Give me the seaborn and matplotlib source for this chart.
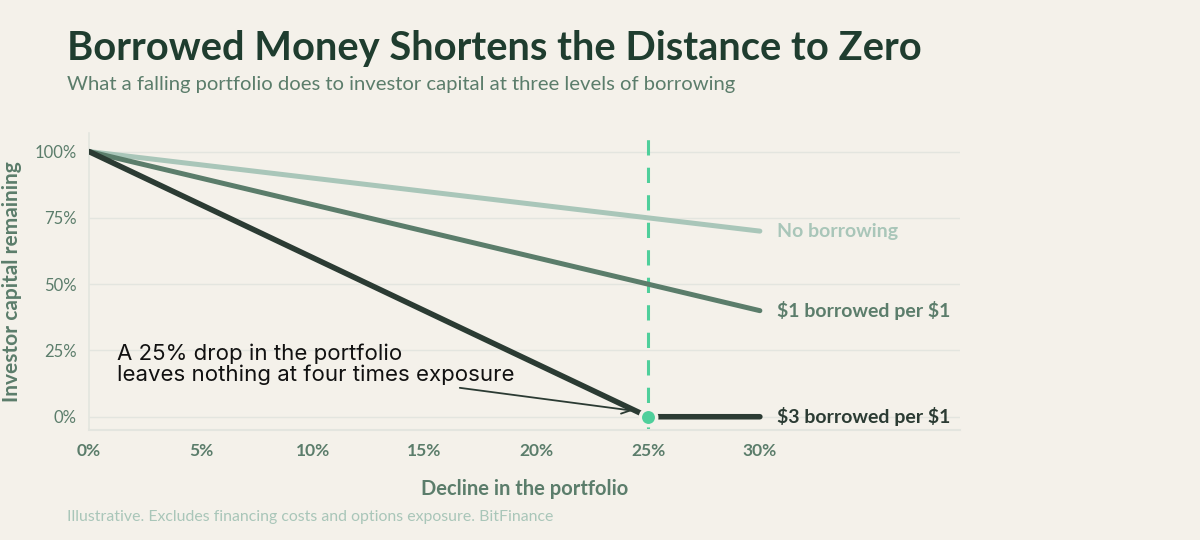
import numpy as np
import pandas as pd
import seaborn as sns
import matplotlib.pyplot as plt

# data
decline = [0, 5, 10, 15, 20, 25, 30]
no_borrow = [100, 95, 90, 85, 80, 75, 70]
one_borrow = [100, 90, 80, 70, 60, 50, 40]
three_borrow = [100, 80, 60, 40, 20, 0, 0]
series_names = ["No borrowing", "$1 borrowed per $1", "$3 borrowed per $1"]
x_ticks = [0, 5, 10, 15, 20, 25, 30]
y_ticks = [0, 25, 50, 75, 100]
wipeout_x = 25
wipeout_y = 0

bg = "#f4f1ea"
dark = "#1f3d2f"
mid = "#5b7d6b"
light = "#a9c6b9"
darkest = "#2b3b33"
accent = "#4fcf9b"
grid_c = "#e3e5df"

sns.set_theme(style="white")
plt.rcParams["font.family"] = ["Lato", "DejaVu Sans"]

df = pd.DataFrame({
    "decline": decline * 3,
    "capital": no_borrow + one_borrow + three_borrow,
    "series": [series_names[0]] * 7 + [series_names[1]] * 7 + [series_names[2]] * 7,
})
palette = {series_names[0]: light, series_names[1]: mid, series_names[2]: darkest}
widths = {series_names[0]: 3.6, series_names[1]: 3.6, series_names[2]: 4.0}

fig = plt.figure(figsize=(12, 5.4), dpi=100, facecolor=bg)
ax = fig.add_axes([0.0742, 0.2037, 0.8 - 0.0742, 0.7537 - 0.2037])
ax.set_facecolor(bg)

ax.axvline(wipeout_x, color=accent, lw=2.2, dashes=(5, 4), zorder=1)

for name in series_names:
    sub = df[df["series"] == name]
    sns.lineplot(data=sub, x="decline", y="capital", color=palette[name],
                 lw=widths[name], ax=ax, solid_capstyle="round", zorder=3)
    last = sub.iloc[-1]
    ax.annotate(name.replace("$", r"\$"), (last["decline"], last["capital"]),
                xytext=(12.5, 0), textcoords="offset points", va="center",
                ha="left", fontsize=14, fontweight="bold", color=palette[name])

ax.scatter([wipeout_x], [wipeout_y], s=140, color=accent, edgecolor=bg,
           linewidth=2.5, zorder=5)

ax.annotate("A 25% drop in the portfolio\nleaves nothing at four times exposure",
            xy=(24.3, 2.3), xytext=(1.25, 27.6), textcoords="data",
            ha="left", va="top", fontsize=16, color="#111111",
            family=["Inter", "DejaVu Sans"], linespacing=1.0,
            arrowprops=dict(arrowstyle="->", color=darkest, lw=1.3,
                            shrinkA=0, shrinkB=0, relpos=(0.8, 0)))

ax.set_xlim(0, 38.95)
ax.set_ylim(-5, 107)
ax.set_xticks(x_ticks)
ax.set_xticklabels([f"{t}%" for t in x_ticks])
ax.set_yticks(y_ticks)
ax.set_yticklabels([f"{t}%" for t in y_ticks])
ax.tick_params(axis="x", length=0, pad=9, labelsize=12.5, labelcolor=mid)
ax.tick_params(axis="y", length=0, pad=9, labelsize=12, labelcolor=mid)
for lab in ax.get_xticklabels():
    lab.set_fontweight("bold")
ax.grid(axis="y", color=grid_c, lw=1)
for side in ["top", "right"]:
    ax.spines[side].set_visible(False)
ax.spines["left"].set_color(grid_c)
ax.spines["bottom"].set_color(grid_c)
ax.spines["left"].set_linewidth(1.2)
ax.spines["bottom"].set_linewidth(1.5)

ax.set_xlabel("Decline in the portfolio", fontsize=14.5, fontweight="bold",
              color=mid, labelpad=15)
ax.set_ylabel("Investor capital remaining", fontsize=15, fontweight="bold",
              color=mid, labelpad=9)

fig.text(0.0558, 0.888, "Borrowed Money Shortens the Distance to Zero",
         fontsize=28.7, fontweight="bold", color=dark, ha="left", va="baseline")
fig.text(0.0558, 0.834, "What a falling portfolio does to investor capital at three levels of borrowing",
         fontsize=14.6, color=mid, ha="left", va="baseline")
fig.text(0.0558, 0.036, "Illustrative. Excludes financing costs and options exposure. BitFinance",
         fontsize=11.4, color=light, ha="left", va="baseline")

fig.savefig("out.png", dpi=100, facecolor=bg)
